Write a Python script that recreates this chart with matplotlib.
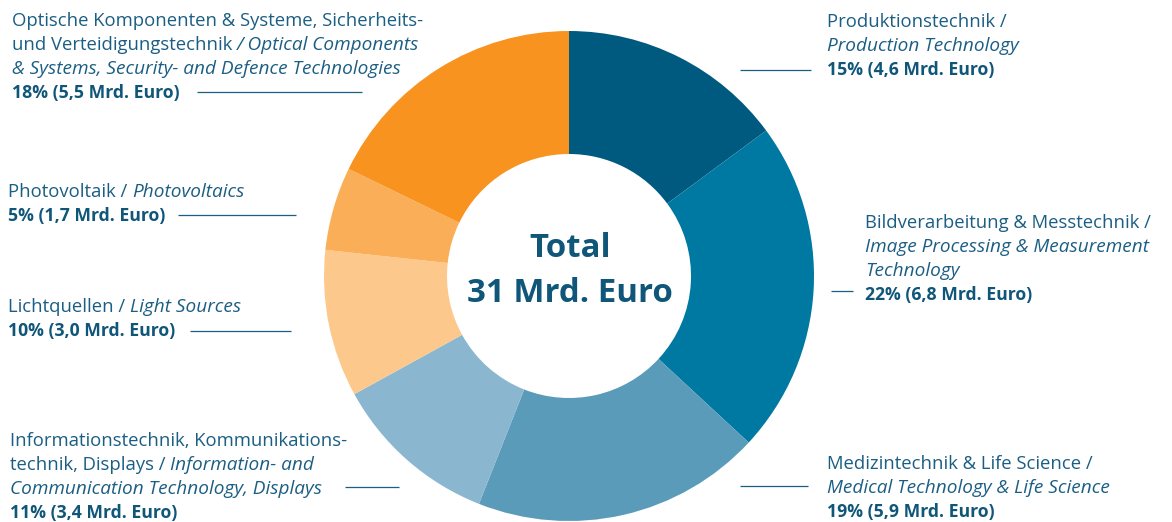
import matplotlib
matplotlib.use('Agg')
import matplotlib.pyplot as plt

# ---------------- data ----------------
categories = [
    "Produktionstechnik",
    "Bildverarbeitung & Messtechnik",
    "Medizintechnik & Life Science",
    "Informationstechnik, Kommunikationstechnik, Displays",
    "Lichtquellen",
    "Photovoltaik",
    "Optische Komponenten & Systeme, Sicherheits- und Verteidigungstechnik",
]
values = [4.6, 6.8, 5.9, 3.4, 3.0, 1.7, 5.5]          # Mrd. Euro
percents = [15, 22, 19, 11, 10, 5, 18]
value_labels = ["4,6", "6,8", "5,9", "3,4", "3,0", "1,7", "5,5"]
colors = ["#005a7f", "#0079a2", "#5a9bba", "#8ab6d0",
          "#fdc88b", "#fbae58", "#f7931e"]
total_label = ["Total", "31 Mrd. Euro"]

# label text lines: list of segments (text, style) ; style r=regular, i=italic
label_lines = [
    [[("Produktionstechnik /", "r")], [("Production Technology", "i")]],
    [[("Bildverarbeitung & Messtechnik /", "r")],
     [("Image Processing & Measurement", "i")], [("Technology", "i")]],
    [[("Medizintechnik & Life Science /", "r")],
     [("Medical Technology & Life Science", "i")]],
    [[("Informationstechnik, Kommunikations-", "r")],
     [("technik, Displays /", "r"), (" Information- and", "i")],
     [("Communication Technology, Displays", "i")]],
    [[("Lichtquellen /", "r"), (" Light Sources", "i")]],
    [[("Photovoltaik /", "r"), (" Photovoltaics", "i")]],
    [[("Optische Komponenten & Systeme, Sicherheits-", "r")],
     [("und Verteidigungstechnik", "r"), (" / Optical Components", "i")],
     [("& Systems, Security- and Defence Technologies", "i")]],
]

# ---------------- layout (pixel coordinates, y from top) ----------------
W, H = 1172, 522
CX, CY, R, RIN = 569, 276, 245, 122
# block left x, first baseline, leader (x0, x1, y)
blocks = [
    (827, 27, (740, 811, 70)),
    (865, 228, (831, 853, 291)),
    (827, 469, (740, 808, 486)),
    (10, 446, (345, 399, 487)),
    (8, 312, (190, 291, 331)),
    (8, 197, (178, 296, 215)),
    (12, 26, (197, 362, 92)),
]
LINE = 24
FONT = ["Open Sans", "DejaVu Sans"]
TXT = "#1b5e84"
BOLD = "#0f5679"
ITALIC_SCALE = 1.027
BOLD_SCALE = 0.955

fig = plt.figure(figsize=(W / 100, H / 100), dpi=100)
ax = fig.add_axes([0, 0, 1, 1])

ax.pie(values, colors=colors, startangle=90, counterclock=False,
       center=(CX, H - CY), radius=R,
       wedgeprops=dict(width=R - RIN, edgecolor="none", linewidth=0))
ax.set_xlim(0, W)
ax.set_ylim(0, H)
ax.set_aspect("equal")
ax.axis("off")

renderer = fig.canvas.get_renderer()


def style_kw(st, size):
    kw = dict(fontsize=size, family=FONT, va="baseline", ha="left")
    if st == "i":
        kw["style"] = "italic"
        kw["color"] = TXT
        kw["fontsize"] = size * ITALIC_SCALE
    elif st == "b":
        kw["weight"] = "bold"
        kw["color"] = BOLD
        kw["fontsize"] = size * BOLD_SCALE
    else:
        kw["color"] = TXT
    return kw


def text_width(s, st, size):
    t = ax.text(0, 0, s, **style_kw(st, size))
    w = t.get_window_extent(renderer).width
    t.remove()
    return w


# fit font size so that the longest reference line has its measured width
ref_w = text_width("Optische Komponenten & Systeme, Sicherheits-", "r", 10)
SIZE = 10 * 410 / ref_w
space_w = text_width("n n", "r", SIZE) - text_width("nn", "r", SIZE)


def draw_line(x, y_img, segs, size):
    cx = x
    for s, st in segs:
        if s.startswith(" "):
            cx += space_w
            s = s[1:]
        t = ax.text(cx, H - y_img, s, **style_kw(st, size))
        cx += t.get_window_extent(renderer).width


for i, (bx, by, (lx0, lx1, ly)) in enumerate(blocks):
    lines = label_lines[i] + [[(f"{percents[i]}% ({value_labels[i]} Mrd. Euro)", "b")]]
    for k, segs in enumerate(lines):
        draw_line(bx, by + k * LINE, segs, SIZE)
    ax.plot([lx0, lx1], [H - ly, H - ly], color=TXT, lw=0.9,
            solid_capstyle="butt")

# centre text
ax.text(CX + 1, H - 257, total_label[0], ha="center", va="baseline",
        fontsize=23.8, weight="bold", family=FONT, color=BOLD)
ax.text(CX + 1, H - 302, total_label[1], ha="center", va="baseline",
        fontsize=23.8, weight="bold", family=FONT, color=BOLD)

fig.savefig("out.png", dpi=100, facecolor="white")
